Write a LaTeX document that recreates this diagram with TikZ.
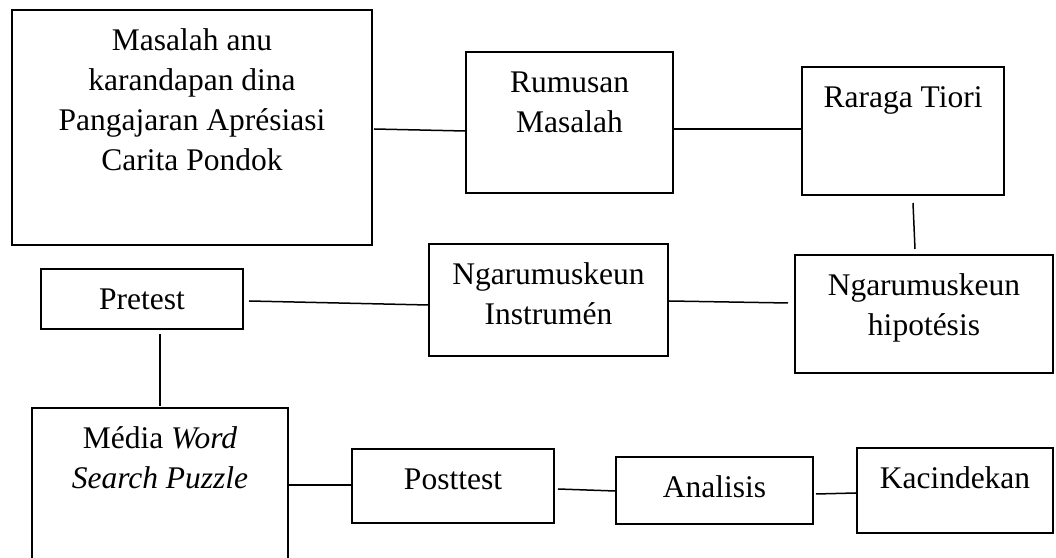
\documentclass[tikz,border=0pt]{standalone}
\usepackage{fontspec}
\setmainfont{Liberation Serif}
\usetikzlibrary{calc}
\tikzset{kotak/.style={draw,line width=0.8pt,inner sep=0pt},
  isi/.style={label={[anchor=north,yshift=-5.2pt,align=center,inner sep=0pt]north:\strut#1}}}

\begin{document}
\begin{tikzpicture}[x=0.4pt,y=-0.4pt,line width=0.6pt,
  font=\fontsize{12.6pt}{16pt}\selectfont]
\useasboundingbox (0,0) rectangle (1056,558);
\clip (0,0) rectangle (1056,558);
% baris kahiji
\node[kotak,minimum width=144pt,minimum height=94pt,
  isi={Masalah anu\\karandapan dina\\Pangajaran Aprésiasi\\Carita Pondok}] (Masalah) at (192,127.5) {};
\node[kotak,minimum width=82.8pt,minimum height=56.4pt,isi={Rumusan\\Masalah}] (Rumusan) at (569.5,122.5) {};
\node[kotak,minimum width=80.8pt,minimum height=51.2pt,isi={Raraga Tiori}] (Raraga) at (903,131) {};
% baris kadua
\node[kotak,minimum width=80.8pt,minimum height=24pt,isi={Pretest}] (Pretest) at (142,299) {};
\node[kotak,minimum width=95.6pt,minimum height=44.8pt,isi={Ngarumuskeun\\Instrumén}] (Instrumen) at (548.5,300) {};
\node[kotak,minimum width=103.2pt,minimum height=47.2pt,isi={Ngarumuskeun\\hipotésis}] (Hipotesis) at (924,314) {};
% baris katilu
\node[kotak,minimum width=102.4pt,minimum height=76.8pt,
  isi={Média \textit{Word}\\\textit{Search Puzzle}}] (Media) at (160,504) {};
\node[kotak,minimum width=80.8pt,minimum height=29.6pt,isi={Posttest}] (Posttest) at (453,486) {};
\node[kotak,minimum width=78.8pt,minimum height=26.8pt,isi={Analisis}] (Analisis) at (714.5,490.5) {};
\node[kotak,minimum width=78.4pt,minimum height=34pt,isi={Kacindekan}] (Kacindekan) at (955,490.5) {};
% garis panyambung
\draw ($(Masalah.east)+(1,1.5)$) -- ($(Rumusan.west)+(0,8.5)$);
\draw ($(Rumusan.east)+(0,6.5)$) -- ($(Raraga.west)+(0,-2)$);
\draw ($(Raraga.south)+(10,7)$) -- ($(Hipotesis.north)+(-9,-5)$);
\draw ($(Instrumen.east)+(0,1)$) -- ($(Hipotesis.west)+(-6,-11)$);
\draw ($(Pretest.east)+(5,2)$) -- ($(Instrumen.west)+(0,5)$);
\draw ($(Pretest.south)+(18,4)$) -- ($(Media.north)+(0,-1)$);
\draw ($(Media.east)+(0,-19)$) -- ($(Posttest.west)+(0,-1)$);
\draw ($(Posttest.east)+(3,3)$) -- ($(Analisis.west)+(0,0.5)$);
\draw ($(Analisis.east)+(2,3.5)$) -- ($(Kacindekan.west)+(0,2.5)$);
\end{tikzpicture}
\end{document}
